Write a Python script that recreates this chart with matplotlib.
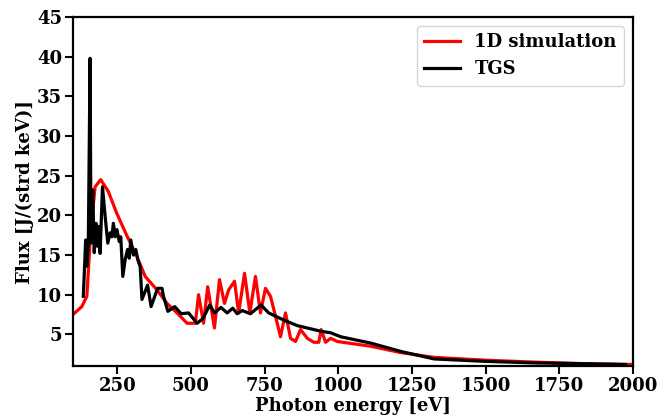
import matplotlib
matplotlib.use('Agg')
import matplotlib.pyplot as plt

font = {'family': 'DejaVu Serif', 'weight': 'bold', 'size': 13}
matplotlib.rc('font', **font)

# 1D simulation
sim_E = [100, 130, 147, 160, 175, 194, 220, 248, 282, 317, 345, 385, 419, 453, 487, 515,
         526, 543, 557, 580, 597, 614, 628, 648, 662, 682, 700, 719, 736, 753, 770, 787,
         804, 821, 838, 855, 872, 895, 917, 934, 942, 957, 974, 997, 1110, 1212, 1325,
         1496, 1666, 1836, 2000]
sim_F = [7.5, 8.5, 9.8, 18.0, 23.6, 24.5, 23.0, 20.3, 17.5, 14.8, 12.3, 10.6, 8.9, 7.7, 6.4, 6.4,
         10.0, 6.4, 11.0, 5.8, 11.9, 8.9, 10.6, 11.7, 7.7, 12.7, 7.7, 12.3, 7.7, 10.8, 9.8, 7.3,
         4.7, 7.7, 4.5, 4.1, 5.6, 4.5, 4.0, 4.0, 5.6, 4.0, 4.5, 4.1, 3.5, 2.7, 2.1,
         1.75, 1.5, 1.3, 1.2]

# TGS
tgs_E = [135, 143, 147, 152, 158, 161, 167, 172, 178, 183, 188, 192, 200, 209, 218, 226,
         232, 237, 243, 249, 257, 262, 269, 277, 285, 291, 296, 305, 313, 320, 328, 334,
         353, 365, 387, 402, 407, 422, 445, 467, 492, 521, 541, 564, 580, 602, 623, 642,
         657, 674, 702, 738, 764, 815, 861, 940, 974, 1008, 1110, 1212, 1325, 1496, 1666,
         1836, 1975]
tgs_F = [9.8, 16.9, 13.6, 16.5, 39.8, 16.5, 23.2, 15.3, 19.0, 16.1, 18.6, 15.2, 23.6, 19.9, 16.5, 17.8,
         17.3, 19.0, 17.3, 18.2, 16.7, 17.3, 12.3, 14.4, 15.7, 14.6, 16.9, 15.0, 15.7, 14.4, 13.5, 9.4,
         11.2, 8.5, 10.8, 10.8, 9.8, 7.9, 8.5, 7.6, 7.7, 6.4, 7.0, 8.7, 7.7, 8.4, 7.7, 8.3,
         7.6, 8.0, 7.6, 8.7, 7.7, 6.8, 6.1, 5.4, 5.2, 4.7, 3.9, 2.85, 1.9, 1.6, 1.4,
         1.3, 1.2]

fig = plt.figure(figsize=(6.6, 4.16), dpi=100)
ax = fig.add_axes([0.1106, 0.12, 0.8485, 0.839])

ax.plot(sim_E, sim_F, color='red', lw=2.3, label='1D simulation')
ax.plot(tgs_E, tgs_F, color='black', lw=2.3, label='TGS')

ax.set_xlim(100, 2000)
ax.set_ylim(1, 45)
ax.set_xticks([250, 500, 750, 1000, 1250, 1500, 1750, 2000])
ax.set_yticks([5, 10, 15, 20, 25, 30, 35, 40, 45])
ax.set_xlabel('Photon energy [eV]', fontweight='bold', labelpad=1)
ax.set_ylabel('Flux [J/(strd keV)]', fontweight='bold', labelpad=2)
for s in ax.spines.values():
    s.set_linewidth(1.6)
ax.tick_params(direction='out', length=6, width=1.5, pad=2)

ax.legend(loc='upper right', fontsize=13)

fig.savefig('out.png', dpi=100)
